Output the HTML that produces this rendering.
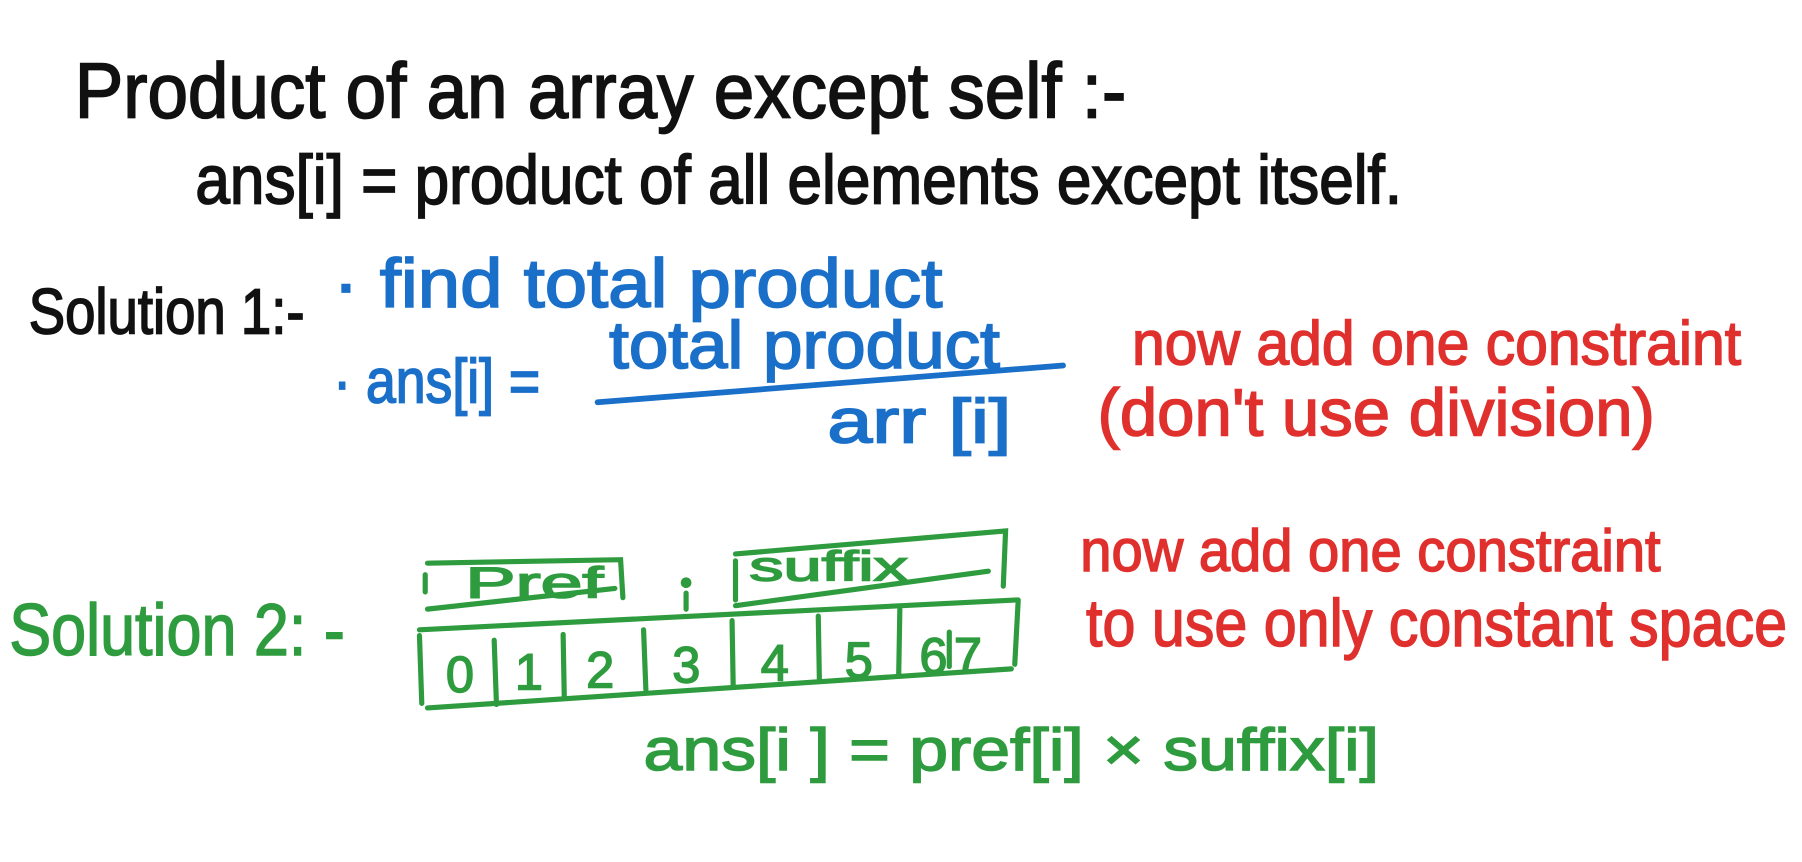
<!DOCTYPE html>
<html><head><meta charset="utf-8"><style>
html,body{margin:0;padding:0;background:#fff;}
svg{display:block;}
text{font-family:"Liberation Sans Narrow","Liberation Sans",sans-serif;}
</style></head><body>
<svg width="1802" height="862" viewBox="0 0 1568 750" xmlns="http://www.w3.org/2000/svg">
<rect width="1568" height="750" fill="#fff"/>
<g fill="#111" stroke="#111" stroke-width="1.5">
<text x="65" y="102" font-size="68" textLength="915" lengthAdjust="spacingAndGlyphs">Product  of an array  except self :-</text>
<text x="170" y="177" font-size="60" textLength="1050" lengthAdjust="spacingAndGlyphs">ans[i] = product of all elements except  itself.</text>
<text x="25" y="290" font-size="56" textLength="240" lengthAdjust="spacingAndGlyphs">Solution 1:-</text>
</g>
<g fill="#1a6fc9" stroke="#1a6fc9" stroke-width="1.5">
<text x="290" y="267" font-size="60" textLength="530" lengthAdjust="spacingAndGlyphs">· find  total  product</text>
<text x="290" y="350" font-size="54" textLength="180" lengthAdjust="spacingAndGlyphs">· ans[i] =</text>
<text x="530" y="320" font-size="58" textLength="340" lengthAdjust="spacingAndGlyphs">total  product</text>
<text x="720" y="385" font-size="54" textLength="160" lengthAdjust="spacingAndGlyphs">arr [i]</text>
</g>
<path d="M520 350 L925 318" stroke="#1a6fc9" stroke-width="5" fill="none" stroke-linecap="round"/>
<g fill="#e0302e" stroke="#e0302e" stroke-width="1.3">
<text x="985" y="317" font-size="54" textLength="530" lengthAdjust="spacingAndGlyphs">now add one constraint</text>
<text x="955" y="379" font-size="58" textLength="485" lengthAdjust="spacingAndGlyphs">(don't use division)</text>
<text x="940" y="497" font-size="52" textLength="505" lengthAdjust="spacingAndGlyphs">now add one  constraint</text>
<text x="945" y="562" font-size="58" textLength="610" lengthAdjust="spacingAndGlyphs">to use  only  constant space</text>
</g>
<g fill="#2e9c3e" stroke="#2e9c3e" stroke-width="1.3">
<text x="8" y="570" font-size="64" textLength="292" lengthAdjust="spacingAndGlyphs">Solution 2: -</text>
<text x="405" y="520" font-size="38" font-family="Liberation Sans" textLength="120" lengthAdjust="spacingAndGlyphs">Pref</text>
<text x="652" y="505" font-size="36" font-family="Liberation Sans" textLength="138" lengthAdjust="spacingAndGlyphs">suffix</text>
<text x="560" y="670" font-size="52" textLength="640" lengthAdjust="spacingAndGlyphs">ans[i ] = pref[i] × suffix[i]</text>
<g font-family="Liberation Sans" font-size="44">
<text x="388" y="602">0</text>
<text x="448" y="600">1</text>
<text x="510" y="598">2</text>
<text x="585" y="594">3</text>
<text x="662" y="592">4</text>
<text x="735" y="590">5</text>
<text x="800" y="586">6</text>
<text x="830" y="586">7</text>
</g>
<circle cx="597" cy="507" r="4"/>
</g>
<g stroke="#2e9c3e" stroke-width="4.5" fill="none" stroke-linecap="round">
<path d="M372 490 L540 487 L542 520"/>
<path d="M372 530 L535 512"/>
<path d="M370 500 L370 515"/>
<path d="M640 482 L875 462 L873 510"/>
<path d="M640 527 L860 497"/>
<path d="M640 488 L640 522"/>
<path d="M597 516 L597 530"/>
<path d="M365 548 L885 522"/>
<path d="M372 616 L880 582"/>
<path d="M365 553 L367 612"/>
<path d="M430 557 L432 613"/>
<path d="M490 552 L491 607"/>
<path d="M560 548 L562 600"/>
<path d="M637 540 L638 598"/>
<path d="M712 536 L713 593"/>
<path d="M783 530 L782 587"/>
<path d="M886 522 L883 578"/>
<path d="M826 550 L826 580"/>
</g>
</svg>
</body></html>
